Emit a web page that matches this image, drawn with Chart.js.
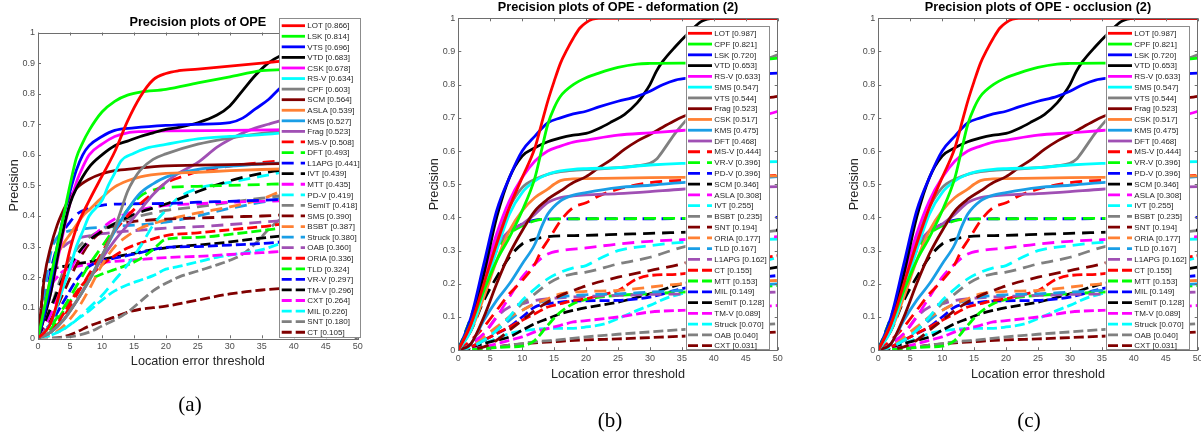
<!DOCTYPE html>
<html><head><meta charset="utf-8">
<script src="https://cdn.jsdelivr.net/npm/chart.js@4/dist/chart.umd.min.js"></script>
<style>
html,body{margin:0;padding:0;background:#fff;width:1201px;height:434px;overflow:hidden;}
body{position:relative;}
canvas{position:absolute;top:0;}
.cap{position:absolute;font-family:"Liberation Serif","Times New Roman",serif;font-size:21px;color:#000;transform:translate(-50%,-50%);white-space:nowrap;}
</style></head><body>
<canvas id="ca" width="400" height="434" style="left:0px"></canvas>
<canvas id="cb" width="400" height="434" style="left:420px"></canvas>
<canvas id="cc" width="400" height="434" style="left:840px"></canvas>
<div class="cap" style="left:190px;top:404px">(a)</div>
<div class="cap" style="left:610px;top:420px">(b)</div>
<div class="cap" style="left:1029px;top:420px">(c)</div>
<script>
// ---------- tick labels ----------
const X_TICKS = [0,5,10,15,20,25,30,35,40,45,50];
const Y_TICKS = ['0','0.1','0.2','0.3','0.4','0.5','0.6','0.7','0.8','0.9','1'];

// ---------- panel (a) ----------
const A_TITLE = 'Precision plots of OPE';
const A_NAMES = ['LOT','LSK','VTS','VTD','CSK','RS-V','CPF','SCM','ASLA','KMS','Frag','MS-V','DFT','L1APG','IVT','MTT','PD-V','SemiT','SMS','BSBT','Struck','OAB','ORIA','TLD','VR-V','TM-V','CXT','MIL','SNT','CT'];
const A_SCORES = [0.866,0.814,0.696,0.683,0.678,0.634,0.603,0.564,0.539,0.527,0.523,0.508,0.493,0.441,0.439,0.435,0.419,0.418,0.390,0.387,0.380,0.360,0.336,0.324,0.297,0.296,0.264,0.226,0.180,0.105];
const A_LOT = [[0,0],[2,0.05],[4,0.2],[5,0.29],[6,0.36],[8,0.45],[10,0.53],[12,0.61],[14,0.71],[16,0.79],[18,0.845],[20,0.866],[22,0.875],[25,0.88],[30,0.89],[35,0.9],[40,0.91],[45,0.915],[50,0.92]];
const A_LSK = [[0,0],[1,0.1],[2,0.2],[3,0.3],[4,0.4],[5,0.5],[6,0.59],[7,0.64],[8,0.68],[10,0.74],[12,0.775],[14,0.795],[16,0.805],[20,0.814],[25,0.835],[30,0.855],[35,0.875],[40,0.88],[45,0.885],[50,0.89]];
const A_VTS = [[0,0],[1,0.08],[2,0.18],[3,0.3],[4,0.4],[5,0.48],[6,0.55],[7,0.6],[8,0.63],[10,0.66],[12,0.68],[15,0.688],[20,0.696],[25,0.7],[30,0.705],[32,0.72],[34,0.75],[36,0.78],[38,0.82],[40,0.84],[45,0.87],[50,0.88]];
const A_VTD = [[0,0],[1,0.07],[2,0.15],[3,0.26],[4,0.36],[5,0.44],[6,0.49],[8,0.56],[10,0.6],[12,0.63],[14,0.645],[16,0.66],[18,0.672],[20,0.683],[22,0.69],[25,0.705],[28,0.73],[30,0.76],[32,0.81],[34,0.86],[36,0.9],[38,0.925],[40,0.94],[45,0.96],[50,0.97]];
const A_CSK = [[0,0],[1,0.07],[2,0.15],[3,0.25],[4,0.35],[5,0.44],[6,0.51],[7,0.56],[8,0.6],[10,0.635],[12,0.66],[14,0.672],[16,0.676],[20,0.678],[30,0.68],[40,0.682],[50,0.683]];
const A_RSV = [[0,0],[2,0.05],[4,0.17],[5,0.23],[6,0.3],[7,0.35],[8,0.4],[10,0.45],[11,0.5],[12,0.54],[13,0.58],[15,0.605],[17,0.622],[20,0.634],[25,0.652],[30,0.66],[35,0.666],[40,0.675],[45,0.68],[50,0.685]];
const A_CPF = [[0,0],[2,0.02],[4,0.06],[6,0.12],[8,0.19],[10,0.27],[12,0.36],[13,0.42],[14,0.48],[15,0.52],[16,0.55],[18,0.585],[20,0.603],[25,0.635],[30,0.655],[35,0.67],[40,0.68],[45,0.685],[50,0.69]];
const A_SCM = [[0,0],[0.5,0.1],[1,0.2],[2,0.3],[3,0.37],[4,0.42],[5,0.46],[6,0.49],[8,0.52],[10,0.538],[12,0.548],[15,0.555],[20,0.564],[25,0.566],[30,0.568],[40,0.572],[50,0.575]];
const A_ASLA = [[0,0],[1,0.1],[2,0.2],[3,0.27],[4,0.31],[5,0.34],[6,0.37],[7,0.4],[8,0.42],[10,0.46],[12,0.495],[14,0.515],[16,0.528],[20,0.539],[25,0.543],[30,0.548],[35,0.552],[40,0.555],[50,0.56]];
const A_KMS = [[0,0],[2,0.02],[4,0.06],[6,0.12],[8,0.19],[10,0.27],[12,0.35],[14,0.42],[16,0.475],[18,0.505],[20,0.527],[25,0.552],[30,0.563],[35,0.57],[40,0.575],[50,0.58]];
const A_FRAG = [[0,0],[2,0.02],[4,0.06],[6,0.12],[8,0.19],[10,0.26],[12,0.32],[14,0.37],[16,0.42],[18,0.47],[20,0.51],[22,0.54],[25,0.575],[28,0.625],[30,0.65],[33,0.68],[36,0.7],[38,0.712],[40,0.72],[45,0.74],[50,0.75]];
const A_MSV = [[0,0],[2,0.02],[4,0.07],[6,0.14],[8,0.21],[10,0.28],[12,0.35],[14,0.4],[16,0.44],[18,0.475],[20,0.508],[22,0.525],[25,0.545],[30,0.563],[35,0.575],[40,0.582],[50,0.59]];
const A_DFT = [[0,0],[2,0.04],[4,0.1],[6,0.17],[8,0.24],[10,0.3],[12,0.36],[14,0.42],[16,0.465],[18,0.485],[20,0.493],[25,0.497],[30,0.5],[35,0.503],[40,0.506],[50,0.51]];
const A_L1APG = [[0,0],[1,0.1],[2,0.22],[3,0.3],[4,0.35],[5,0.38],[6,0.405],[8,0.425],[10,0.435],[15,0.44],[20,0.441],[25,0.445],[30,0.448],[40,0.455],[50,0.46]];
const A_IVT = [[0,0],[2,0.1],[4,0.2],[6,0.27],[8,0.32],[10,0.35],[12,0.375],[15,0.405],[20,0.439],[25,0.48],[30,0.515],[35,0.54],[40,0.555],[50,0.57]];
const A_MTT = [[0,0],[2,0.08],[4,0.18],[6,0.26],[8,0.32],[10,0.36],[12,0.39],[15,0.415],[20,0.435],[25,0.44],[30,0.445],[35,0.448],[40,0.45],[50,0.455]];
const A_PDV = [[0,0],[2,0.01],[4,0.03],[6,0.06],[8,0.1],[10,0.14],[12,0.19],[14,0.24],[16,0.3],[18,0.37],[20,0.419],[22,0.46],[25,0.49],[30,0.51],[35,0.53],[40,0.55],[50,0.57]];
const A_SEMIT = [[0,0],[2,0.1],[4,0.22],[6,0.29],[8,0.33],[10,0.355],[12,0.375],[15,0.395],[20,0.418],[25,0.43],[30,0.445],[35,0.458],[40,0.47],[50,0.48]];
const A_SMS = [[0,0],[2,0.06],[4,0.15],[6,0.24],[8,0.31],[10,0.35],[12,0.37],[15,0.382],[20,0.39],[25,0.393],[30,0.397],[35,0.4],[40,0.405],[50,0.41]];
const A_BSBT = [[0,0],[2,0.01],[4,0.04],[6,0.09],[8,0.16],[10,0.24],[12,0.3],[14,0.335],[16,0.36],[18,0.375],[20,0.387],[25,0.41],[30,0.43],[35,0.455],[38,0.48],[40,0.49],[50,0.5]];
const A_STRUCK = [[0,0],[1,0.15],[2,0.28],[3,0.33],[4,0.345],[6,0.355],[8,0.36],[10,0.363],[15,0.37],[20,0.38],[25,0.4],[30,0.425],[35,0.445],[40,0.465],[50,0.48]];
const A_OAB = [[0,0],[1,0.1],[2,0.2],[3,0.27],[4,0.3],[6,0.325],[8,0.335],[10,0.342],[15,0.352],[20,0.36],[25,0.365],[30,0.372],[35,0.38],[40,0.387],[50,0.395]];
const A_ORIA = [[0,0],[2,0.02],[4,0.08],[6,0.15],[8,0.2],[10,0.24],[12,0.27],[14,0.295],[17,0.318],[20,0.336],[25,0.345],[30,0.355],[35,0.365],[40,0.378],[50,0.39]];
const A_TLD = [[0,0],[2,0.03],[4,0.09],[6,0.15],[8,0.19],[10,0.21],[12,0.225],[14,0.24],[16,0.26],[18,0.29],[20,0.324],[25,0.33],[30,0.34],[35,0.352],[40,0.365],[50,0.375]];
const A_VRV = [[0,0],[2,0.05],[4,0.12],[6,0.19],[8,0.235],[10,0.252],[15,0.275],[20,0.297],[25,0.3],[30,0.305],[35,0.31],[40,0.318],[50,0.325]];
const A_TMV = [[0,0],[0.5,0.1],[1,0.2],[2,0.225],[4,0.235],[6,0.243],[8,0.25],[10,0.258],[15,0.278],[20,0.296],[25,0.305],[30,0.315],[35,0.328],[40,0.338],[50,0.345]];
const A_CXT = [[0,0],[1,0.1],[2,0.17],[3,0.2],[4,0.22],[6,0.235],[10,0.248],[15,0.256],[20,0.264],[25,0.268],[30,0.274],[35,0.28],[40,0.286],[50,0.29]];
const A_MIL = [[0,0],[2,0.01],[4,0.03],[6,0.06],[8,0.09],[10,0.125],[12,0.155],[14,0.175],[16,0.19],[18,0.205],[20,0.226],[22,0.235],[25,0.25],[28,0.265],[30,0.272],[35,0.29],[38,0.31],[40,0.32],[50,0.33]];
const A_SNT = [[0,0],[5,0.005],[8,0.02],[10,0.04],[12,0.06],[14,0.085],[16,0.12],[18,0.155],[20,0.18],[22,0.2],[25,0.22],[28,0.24],[30,0.255],[32,0.275],[34,0.31],[36,0.355],[38,0.39],[40,0.41],[45,0.44],[50,0.46]];
const A_CT = [[0,0],[2,0],[4,0.005],[6,0.02],[8,0.04],[10,0.055],[12,0.07],[14,0.085],[16,0.095],[18,0.1],[20,0.105],[25,0.125],[30,0.145],[35,0.158],[40,0.165],[50,0.175]];
const A_SERIES = [A_LOT,A_LSK,A_VTS,A_VTD,A_CSK,A_RSV,A_CPF,A_SCM,A_ASLA,A_KMS,A_FRAG,A_MSV,A_DFT,A_L1APG,A_IVT,A_MTT,A_PDV,A_SEMIT,A_SMS,A_BSBT,A_STRUCK,A_OAB,A_ORIA,A_TLD,A_VRV,A_TMV,A_CXT,A_MIL,A_SNT,A_CT];

// ---------- panels (b) and (c) ----------
const B_TITLE = 'Precision plots of OPE - deformation (2)';
const C_TITLE = 'Precision plots of OPE - occlusion (2)';
const B_NAMES = ['LOT','CPF','LSK','VTD','RS-V','SMS','VTS','Frag','CSK','KMS','DFT','MS-V','VR-V','PD-V','SCM','ASLA','IVT','BSBT','SNT','ORIA','TLD','L1APG','CT','MTT','MIL','SemiT','TM-V','Struck','OAB','CXT'];
const B_SCORES = [0.987,0.821,0.720,0.653,0.633,0.547,0.544,0.523,0.517,0.475,0.468,0.444,0.396,0.396,0.346,0.308,0.255,0.235,0.194,0.177,0.167,0.162,0.155,0.153,0.149,0.128,0.089,0.070,0.040,0.031];
const B_LOT = [[0,0],[2,0.08],[4,0.2],[6,0.32],[8,0.43],[10,0.52],[12,0.61],[13,0.68],[14,0.75],[15,0.81],[16,0.865],[17,0.905],[18,0.94],[19,0.97],[20,0.987],[21,0.997],[22,1],[30,1],[40,1],[50,1]];
const B_CPF = [[0,0],[2,0.08],[4,0.18],[6,0.27],[8,0.34],[10,0.42],[12,0.52],[13,0.6],[14,0.68],[15,0.73],[16,0.765],[18,0.8],[20,0.821],[22,0.835],[25,0.852],[28,0.862],[30,0.864],[35,0.865],[40,0.865],[45,0.87],[50,0.88]];
const B_LSK = [[0,0],[2,0.1],[4,0.26],[6,0.42],[8,0.52],[10,0.6],[12,0.645],[14,0.685],[16,0.7],[18,0.712],[20,0.72],[22,0.733],[25,0.75],[28,0.765],[30,0.78],[32,0.8],[34,0.814],[36,0.82],[40,0.825],[45,0.83],[50,0.835]];
const B_VTD = [[0,0],[2,0.09],[4,0.23],[6,0.4],[8,0.52],[10,0.585],[12,0.61],[14,0.628],[16,0.64],[18,0.648],[20,0.653],[22,0.668],[24,0.688],[26,0.71],[28,0.745],[29,0.77],[30,0.8],[31,0.84],[32,0.87],[34,0.915],[36,0.955],[38,0.99],[40,1],[50,1]];
const B_RSV = [[0,0],[2,0.08],[4,0.22],[6,0.35],[8,0.45],[10,0.52],[12,0.57],[14,0.6],[16,0.615],[18,0.627],[20,0.633],[25,0.648],[30,0.655],[35,0.662],[40,0.67],[45,0.69],[50,0.72]];
const B_SMS = [[0,0],[2,0.06],[4,0.18],[6,0.3],[8,0.41],[10,0.475],[12,0.51],[14,0.53],[16,0.54],[18,0.545],[20,0.547],[25,0.55],[30,0.558],[35,0.563],[40,0.565],[50,0.568]];
const B_VTS = [[0,0],[2,0.07],[4,0.2],[6,0.33],[8,0.43],[10,0.49],[12,0.515],[14,0.53],[16,0.538],[18,0.542],[20,0.544],[25,0.55],[28,0.556],[30,0.563],[31,0.575],[32,0.6],[34,0.655],[36,0.7],[40,0.78],[45,0.85],[50,0.89]];
const B_FRAG = [[0,0],[2,0.02],[4,0.1],[6,0.2],[8,0.29],[10,0.36],[12,0.42],[14,0.455],[16,0.48],[18,0.505],[20,0.523],[22,0.55],[24,0.575],[26,0.605],[28,0.63],[30,0.65],[32,0.672],[34,0.693],[36,0.71],[40,0.73],[45,0.75],[50,0.765]];
const B_CSK = [[0,0],[2,0.06],[4,0.16],[6,0.27],[8,0.36],[10,0.42],[12,0.46],[14,0.485],[15,0.5],[16,0.511],[18,0.516],[20,0.517],[30,0.52],[40,0.522],[50,0.525]];
const B_KMS = [[0,0],[2,0.02],[4,0.09],[6,0.15],[8,0.2],[10,0.26],[12,0.32],[13,0.37],[14,0.41],[16,0.45],[18,0.467],[20,0.475],[25,0.49],[30,0.497],[35,0.505],[40,0.51],[50,0.523]];
const B_DFT = [[0,0],[2,0.08],[4,0.2],[6,0.31],[8,0.36],[10,0.38],[12,0.41],[14,0.445],[16,0.46],[18,0.465],[20,0.468],[25,0.472],[30,0.478],[35,0.485],[40,0.488],[50,0.493]];
const B_MSV = [[0,0],[2,0.03],[4,0.07],[6,0.12],[8,0.17],[10,0.21],[12,0.26],[13,0.3],[14,0.33],[15,0.36],[16,0.39],[18,0.43],[20,0.444],[22,0.465],[25,0.485],[30,0.505],[35,0.512],[40,0.515],[50,0.527]];
const B_VRV = [[0,0],[2,0.1],[4,0.21],[6,0.3],[8,0.35],[10,0.375],[12,0.39],[14,0.395],[20,0.396],[30,0.397],[40,0.398],[50,0.405]];
const B_PDV = [[0,0],[2,0.1],[4,0.22],[6,0.31],[8,0.355],[10,0.38],[12,0.392],[14,0.395],[20,0.396],[30,0.396],[40,0.397],[50,0.4]];
const B_SCM = [[0,0],[2,0.06],[4,0.15],[6,0.22],[8,0.28],[10,0.32],[12,0.335],[14,0.342],[20,0.346],[30,0.352],[40,0.358],[50,0.362]];
const B_ASLA = [[0,0],[2,0.02],[4,0.05],[6,0.1],[8,0.16],[10,0.22],[12,0.26],[14,0.29],[16,0.3],[20,0.308],[25,0.32],[30,0.328],[35,0.333],[40,0.336],[50,0.342]];
const B_IVT = [[0,0],[2,0.01],[4,0.03],[6,0.06],[8,0.1],[10,0.15],[12,0.185],[14,0.215],[16,0.235],[18,0.248],[20,0.255],[22,0.275],[25,0.3],[30,0.315],[35,0.325],[40,0.33],[50,0.335]];
const B_BSBT = [[0,0],[2,0.01],[4,0.03],[6,0.06],[8,0.1],[10,0.14],[12,0.17],[14,0.2],[16,0.22],[18,0.23],[20,0.235],[25,0.26],[30,0.28],[35,0.31],[40,0.33],[45,0.35],[50,0.36]];
const B_SNT = [[0,0],[4,0.01],[6,0.03],[8,0.06],[10,0.09],[12,0.12],[14,0.145],[16,0.165],[18,0.18],[20,0.194],[25,0.22],[30,0.24],[35,0.26],[40,0.29],[45,0.32],[50,0.34]];
const B_ORIA = [[0,0],[2,0.01],[4,0.04],[6,0.07],[8,0.1],[10,0.12],[12,0.14],[14,0.155],[16,0.17],[18,0.175],[20,0.177],[25,0.18],[30,0.19],[35,0.2],[40,0.205],[50,0.21]];
const B_TLD = [[0,0],[2,0.01],[4,0.03],[6,0.06],[8,0.09],[10,0.12],[12,0.14],[14,0.15],[16,0.16],[20,0.167],[25,0.17],[30,0.175],[35,0.18],[40,0.19],[50,0.2]];
const B_L1APG = [[0,0],[2,0.02],[4,0.05],[6,0.1],[8,0.13],[10,0.14],[12,0.15],[14,0.155],[16,0.158],[20,0.162],[25,0.165],[30,0.168],[40,0.17],[50,0.175]];
const B_CT = [[0,0],[2,0.01],[4,0.03],[6,0.05],[8,0.07],[10,0.09],[12,0.11],[14,0.13],[16,0.14],[18,0.15],[20,0.155],[22,0.165],[25,0.18],[28,0.215],[30,0.225],[35,0.23],[40,0.25],[45,0.27],[50,0.285]];
const B_MTT = [[0,0],[4,0.005],[8,0.01],[10,0.012],[12,0.03],[14,0.075],[16,0.115],[18,0.14],[20,0.153],[25,0.165],[30,0.17],[35,0.175],[40,0.18],[50,0.195]];
const B_MIL = [[0,0],[2,0.01],[4,0.03],[6,0.05],[8,0.07],[10,0.1],[12,0.13],[14,0.14],[16,0.145],[20,0.149],[25,0.15],[30,0.16],[35,0.185],[40,0.2],[45,0.215],[50,0.225]];
const B_SEMIT = [[0,0],[2,0.01],[4,0.02],[6,0.03],[8,0.04],[10,0.06],[12,0.08],[14,0.095],[16,0.11],[18,0.12],[20,0.128],[25,0.145],[30,0.17],[35,0.2],[40,0.215],[45,0.235],[50,0.25]];
const B_TMV = [[0,0],[4,0.01],[8,0.03],[10,0.04],[12,0.055],[14,0.065],[16,0.075],[18,0.085],[20,0.089],[25,0.1],[30,0.115],[35,0.12],[40,0.122],[50,0.135]];
const B_STRUCK = [[0,0],[2,0.005],[4,0.02],[6,0.035],[8,0.05],[10,0.058],[12,0.063],[15,0.066],[18,0.066],[20,0.07],[23,0.08],[25,0.095],[28,0.12],[30,0.135],[33,0.16],[35,0.17],[40,0.2],[45,0.25],[50,0.28]];
const B_OAB = [[0,0],[4,0.005],[8,0.015],[12,0.025],[16,0.032],[20,0.04],[25,0.048],[30,0.055],[35,0.062],[40,0.068],[50,0.08]];
const B_CXT = [[0,0],[4,0.005],[8,0.015],[12,0.022],[16,0.027],[20,0.031],[25,0.034],[30,0.038],[35,0.042],[40,0.045],[50,0.055]];
const B_SERIES = [B_LOT,B_CPF,B_LSK,B_VTD,B_RSV,B_SMS,B_VTS,B_FRAG,B_CSK,B_KMS,B_DFT,B_MSV,B_VRV,B_PDV,B_SCM,B_ASLA,B_IVT,B_BSBT,B_SNT,B_ORIA,B_TLD,B_L1APG,B_CT,B_MTT,B_MIL,B_SEMIT,B_TMV,B_STRUCK,B_OAB,B_CXT];

// ---------- styles ----------
const COLORS = ['#ff0000','#00ff00','#0000ff','#000000','#ff00ff','#00ffff','#808080','#800000','#ff8033','#1a9ee6','#a050b4'];
const DASHES = [[], [12,7], [10,4]];
const FONT = '"Liberation Sans", Arial, Helvetica, sans-serif';
const H = 434;

const GEO_A = {left:38, top:32.5, right:357.7, bottom:338.3, titleY:22.3, xtPad:1.2,
  leg:{x0:279, y0:18, x1:361, y1:338, first:25.7, step:10.57, lx0:281.7, lx1:305, tx:307.3}};
const GEO_B = {left:38.3, top:18.3, right:357.7, bottom:350.2, titleY:7.6, xtPad:0.3,
  leg:{x0:265.5, y0:26, x1:349.3, y1:350, first:33.3, step:10.77, lx0:268, lx1:292, tx:294.3}};

function makePanel(id, title, names, scores, series, g) {
  const canvas = document.getElementById(id);
  const W = canvas.width;
  const datasets = names.map((n, i) => ({
    label: n + ' [' + scores[i].toFixed(3) + ']',
    data: series[i].map(p => ({x: p[0], y: p[1]})),
    borderColor: COLORS[i % 11],
    backgroundColor: COLORS[i % 11],
    borderWidth: 2.8,
    borderDash: DASHES[i < 11 ? 0 : (i < 22 ? 1 : 2)],
    borderCapStyle: 'butt',
    pointRadius: 0,
    pointHoverRadius: 0,
    cubicInterpolationMode: 'monotone',
    fill: false
  }));
  const yVals = Y_TICKS.map(Number);
  const deco = {
    id: 'deco_' + id,
    afterDatasetsDraw(chart) {
      const {ctx, chartArea: a, scales} = chart;
      ctx.save();
      ctx.setLineDash([]);
      ctx.strokeStyle = '#6e6e6e';
      ctx.lineWidth = 1;
      ctx.strokeRect(Math.round(a.left) + 0.5, Math.round(a.top) + 0.5, Math.round(a.right - a.left), Math.round(a.bottom - a.top));
      ctx.beginPath();
      X_TICKS.forEach(v => {
        const x = Math.round(scales.x.getPixelForValue(v)) + 0.5;
        ctx.moveTo(x, a.bottom); ctx.lineTo(x, a.bottom - 3);
        ctx.moveTo(x, a.top); ctx.lineTo(x, a.top + 3);
      });
      yVals.forEach(v => {
        const y = Math.round(scales.y.getPixelForValue(v)) + 0.5;
        ctx.moveTo(a.left, y); ctx.lineTo(a.left + 3, y);
        ctx.moveTo(a.right, y); ctx.lineTo(a.right - 3, y);
      });
      ctx.stroke();
      ctx.restore();
    },
    afterDraw(chart) {
      const {ctx, chartArea: a} = chart;
      ctx.save();
      ctx.fillStyle = '#000';
      ctx.font = 'bold 12.7px ' + FONT;
      ctx.textAlign = 'center';
      ctx.textBaseline = 'middle';
      ctx.fillText(title, (a.left + a.right) / 2, g.titleY);
      const L = g.leg;
      ctx.fillStyle = '#fff';
      ctx.fillRect(L.x0, L.y0, L.x1 - L.x0, L.y1 - L.y0);
      ctx.strokeStyle = '#8c8c8c';
      ctx.lineWidth = 1;
      ctx.strokeRect(Math.round(L.x0) + 0.5, Math.round(L.y0) + 0.5, Math.round(L.x1 - L.x0) - 1, Math.round(L.y1 - L.y0) - 1);
      chart.data.datasets.forEach((d, i) => {
        const y = L.first + i * L.step;
        ctx.setLineDash(d.borderDash);
        ctx.strokeStyle = d.borderColor;
        ctx.lineWidth = 2.8;
        ctx.lineCap = 'butt';
        ctx.beginPath(); ctx.moveTo(L.lx0, y); ctx.lineTo(L.lx1, y); ctx.stroke();
        ctx.setLineDash([]);
        ctx.fillStyle = '#262626';
        ctx.font = '8px ' + FONT;
        ctx.textAlign = 'left';
        ctx.textBaseline = 'middle';
        ctx.fillText(d.label, L.tx, y + 0.5);
      });
      ctx.restore();
    }
  };
  return new Chart(canvas, {
    type: 'line',
    data: {datasets},
    options: {
      responsive: false,
      animation: false,
      devicePixelRatio: 1,
      events: [],
      layout: {padding: {left: 0, top: g.top, right: W - g.right, bottom: H - g.bottom - 32}},
      plugins: {legend: {display: false}, tooltip: {enabled: false}, title: {display: false}},
      scales: {
        x: {
          type: 'linear', min: 0, max: 50,
          afterBuildTicks: s => { s.ticks = X_TICKS.map(v => ({value: v})); },
          ticks: {autoSkip: false, maxRotation: 0, padding: 3, color: '#4d4d4d', font: {size: 9, family: FONT}, callback: v => String(v)},
          grid: {display: false, drawTicks: false},
          border: {display: false},
          title: {display: true, text: 'Location error threshold', color: '#262626', font: {size: 12.7, family: FONT}, padding: {top: 0, bottom: g.xtPad}},
          afterFit: s => { s.height = 32; s.paddingLeft = 0; s.paddingRight = 0; }
        },
        y: {
          type: 'linear', min: 0, max: 1,
          afterBuildTicks: s => { s.ticks = yVals.map(v => ({value: v})); },
          ticks: {padding: 3, color: '#4d4d4d', font: {size: 9, family: FONT}, callback: v => Y_TICKS[Math.round(v * 10)]},
          grid: {display: false, drawTicks: false},
          border: {display: false},
          title: {display: true, text: 'Precision', color: '#262626', font: {size: 12.7, family: FONT}, padding: {top: 6.4, bottom: 0}},
          afterFit: s => { s.width = g.left; s.paddingTop = 0; s.paddingBottom = 0; }
        }
      }
    },
    plugins: [deco]
  });
}

makePanel('ca', A_TITLE, A_NAMES, A_SCORES, A_SERIES, GEO_A);
makePanel('cb', B_TITLE, B_NAMES, B_SCORES, B_SERIES, GEO_B);
makePanel('cc', C_TITLE, B_NAMES, B_SCORES, B_SERIES, GEO_B);
</script>
</body></html>
